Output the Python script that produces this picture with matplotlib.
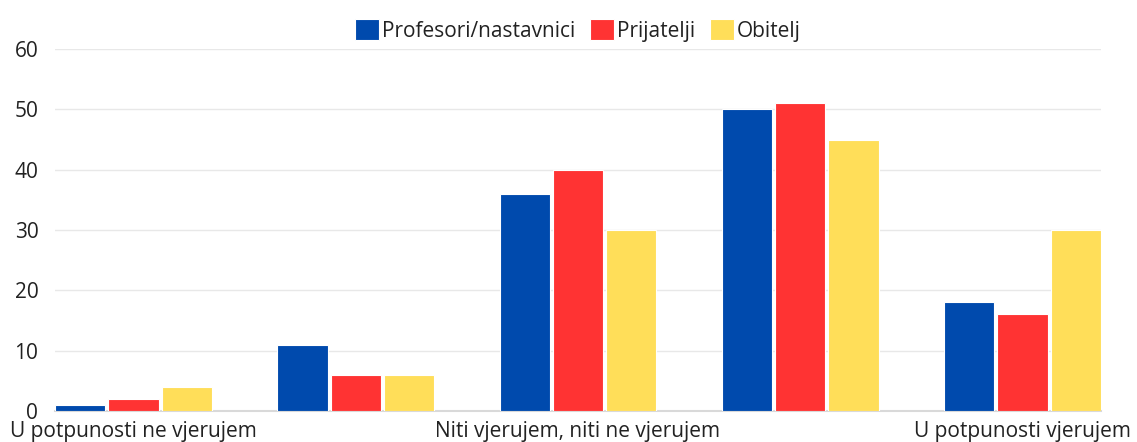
import numpy as np
import matplotlib
matplotlib.use('Agg')
from matplotlib import pyplot as plt

# podaci
categories = ["U potpunosti ne vjerujem", "", "Niti vjerujem, niti ne vjerujem", "", "U potpunosti vjerujem"]
series_names = ["Profesori/nastavnici", "Prijatelji", "Obitelj"]
profesori = [1, 11, 36, 50, 18]
prijatelji = [2, 6, 40, 51, 16]
obitelj = [4, 6, 30, 45, 30]
colors = ["#004aad", "#ff3333", "#ffde59"]

plt.rcParams['font.family'] = ['Open Sans', 'DejaVu Sans']

fig = plt.figure(figsize=(11.37, 4.42), dpi=100)
ax = fig.add_axes([55 / 1137, 31 / 442, (1101 - 55) / 1137, (411 - 49) / 442])

x = np.arange(len(categories))
step = 0.24
width = 0.226
for i, (vals, name) in enumerate(zip([profesori, prijatelji, obitelj], series_names)):
    ax.bar(x + (i - 1) * step, vals, width=width, color=colors[i], label=name,
           edgecolor='white', linewidth=0.8, zorder=3)

ax.set_xlim(-step - width / 2, len(categories) - 1 + step + width / 2)
ax.set_ylim(0, 60)
ax.set_yticks(range(0, 61, 10))
ax.grid(axis='y', color='#e8e8e8', linewidth=1, zorder=0)
for s in ['top', 'right', 'left']:
    ax.spines[s].set_visible(False)
ax.spines['bottom'].set_color('#d9d9d9')
ax.spines['bottom'].set_linewidth(1.5)
ax.tick_params(axis='both', length=0, labelsize=15, colors='#222222')
ax.tick_params(axis='y', pad=12)
ax.tick_params(axis='x', pad=7)
ax.set_xticks(x)
ax.set_xticklabels(categories)

ax.legend(loc='upper center', bbox_to_anchor=(0.5, 1.105), ncol=3, frameon=False,
          fontsize=15, handlelength=1.15, handleheight=1.15, handletextpad=0.15,
          columnspacing=0.7, borderaxespad=0, labelcolor='#222222')

fig.savefig("out.png", dpi=100)
